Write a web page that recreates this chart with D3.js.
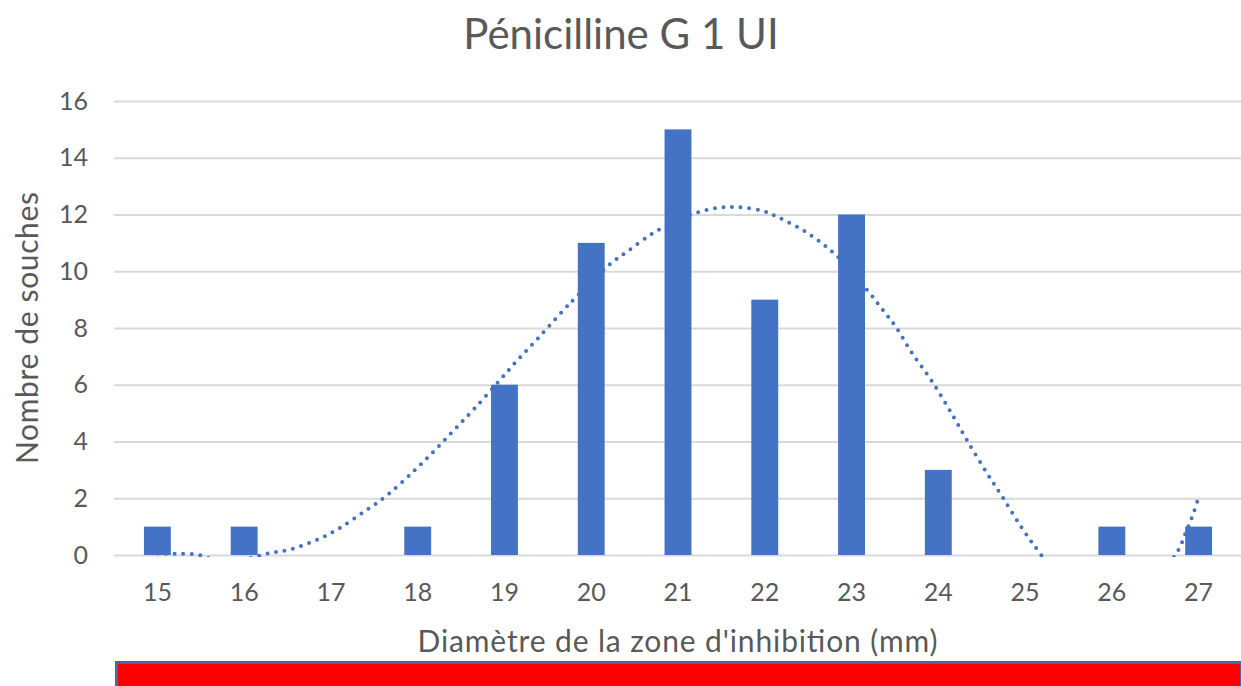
<!DOCTYPE html>
<html>
<head>
<meta charset="utf-8">
<script src="https://cdn.jsdelivr.net/npm/d3@7"></script>
<style>
  body { margin: 0; background: #fff; }
  svg { display: block; font-family: Lato, "Noto Sans", sans-serif; }
  .tick text { fill: #595959; }
</style>
</head>
<body>
<div id="chart"></div>
<script>
// bars: number of strains per inhibition diameter
var categories = [15, 16, 17, 18, 19, 20, 21, 22, 23, 24, 25, 26, 27];
var counts = [1, 1, 0, 1, 6, 11, 15, 9, 12, 3, 0, 1, 1];
var yTicks = [0, 2, 4, 6, 8, 10, 12, 14, 16];

// dotted trend line (values below 0 are clipped)
var trendX = [15.0, 15.2, 15.45, 15.7, 16.0, 16.3, 16.51, 16.72, 16.91, 17.1, 17.38, 17.65, 17.97,
  18.2, 18.43, 18.66, 18.95, 19.16, 19.39, 19.68, 19.83, 20.22, 20.41, 20.68, 20.87,
  21.17, 21.45, 21.68, 21.98, 22.17, 22.49, 22.83, 23.18, 23.38, 23.51, 23.69, 23.94,
  24.17, 24.33, 24.56, 24.74, 24.97, 25.17, 25.5, 26.0, 26.4, 26.76, 26.85, 26.93, 27.0];
var trendY = [0.05, 0.04, 0.02, -0.2, -0.15, 0.07, 0.18, 0.39, 0.63, 0.95, 1.52, 2.11, 3.0,
  3.7, 4.44, 5.18, 6.17, 6.9, 7.65, 8.63, 9.1, 10.26, 10.68, 11.28, 11.6,
  12.02, 12.23, 12.26, 12.12, 11.88, 11.35, 10.54, 9.34, 8.56, 8.04, 7.15, 6.06,
  4.9, 4.05, 2.89, 2.04, 0.92, 0.07, -1.2, -1.8, -1.2, 0.14, 0.78, 1.38, 2.04];

var W = 1241, H = 686;
var margin = {top: 101, right: -1, bottom: 131, left: 114};

var svg = d3.select("#chart").append("svg")
    .attr("width", W)
    .attr("height", H);

var x = d3.scaleBand()
    .domain(categories)
    .range([margin.left, W - margin.right])
    .paddingInner(0.69)
    .paddingOuter(0.345);

var y = d3.scaleLinear()
    .domain([0, 16])
    .range([H - margin.bottom, margin.top]);

// linear version of the x axis for the trend line
var xl = d3.scaleLinear()
    .domain([categories[0], categories[categories.length - 1]])
    .range([x(categories[0]) + x.bandwidth() / 2, x(categories[categories.length - 1]) + x.bandwidth() / 2]);

// gridlines
svg.append("g")
    .attr("transform", "translate(" + margin.left + ",0)")
    .call(d3.axisLeft(y).tickValues(yTicks).tickSize(-(W - margin.left)).tickFormat(""))
    .call(function(g) { g.select(".domain").remove(); })
    .selectAll("line")
    .attr("stroke", "#d9d9d9")
    .attr("stroke-width", 2);

// y labels
svg.append("g")
    .attr("transform", "translate(" + (margin.left - 16) + ",0)")
    .call(d3.axisLeft(y).tickValues(yTicks).tickSize(0).tickPadding(10))
    .call(function(g) { g.select(".domain").remove(); })
    .selectAll("text")
    .attr("font-size", 25)
    .attr("font-family", "Lato");

// x labels
svg.append("g")
    .attr("transform", "translate(0," + (H - margin.bottom) + ")")
    .call(d3.axisBottom(x).tickSize(0).tickPadding(28))
    .call(function(g) { g.select(".domain").remove(); })
    .selectAll("text")
    .attr("font-size", 25)
    .attr("font-family", "Lato");

// bars
svg.append("g")
  .selectAll("rect")
  .data(counts)
  .enter().append("rect")
    .attr("x", function(d, i) { return x(categories[i]); })
    .attr("y", function(d) { return y(d); })
    .attr("width", x.bandwidth())
    .attr("height", function(d) { return y(0) - y(d); })
    .attr("fill", "#4472c4");

// trend line, clipped to the plot area
svg.append("clipPath")
    .attr("id", "plotclip")
  .append("rect")
    .attr("x", margin.left)
    .attr("y", margin.top - 10)
    .attr("width", W - margin.left)
    .attr("height", y(0) - margin.top + 12);

var trend = trendX.map(function(v, i) { return [v, trendY[i]]; });

var line = d3.line()
    .x(function(d) { return xl(d[0]); })
    .y(function(d) { return y(d[1]); })
    .curve(d3.curveCatmullRom);

svg.append("path")
    .datum(trend)
    .attr("clip-path", "url(#plotclip)")
    .attr("d", line)
    .attr("fill", "none")
    .attr("stroke", "#4472c4")
    .attr("stroke-width", 4)
    .attr("stroke-linecap", "round")
    .attr("stroke-dasharray", "0 8.6");

// title
svg.append("text")
    .attr("x", 621)
    .attr("y", 49)
    .attr("text-anchor", "middle")
    .attr("font-size", 42)
    .attr("fill", "#595959")
    .text("Pénicilline G 1 UI");

// axis titles
svg.append("text")
    .attr("x", (margin.left + W) / 2)
    .attr("y", 652)
    .attr("text-anchor", "middle")
    .attr("font-size", 30)
    .attr("textLength", 520)
    .attr("fill", "#595959")
    .text("Diamètre de la zone d'inhibition (mm)");

svg.append("text")
    .attr("transform", "translate(38," + (y(0) + y(16)) / 2 + ") rotate(-90)")
    .attr("text-anchor", "middle")
    .attr("font-size", 30)
    .attr("textLength", 272)
    .attr("fill", "#595959")
    .text("Nombre de souches");

// red band at the bottom
svg.append("rect")
    .attr("x", 116.5)
    .attr("y", 662.5)
    .attr("width", W - 116)
    .attr("height", 30)
    .attr("fill", "#ff0000")
    .attr("stroke", "#4a67a3")
    .attr("stroke-width", 3);
</script>
</body>
</html>
